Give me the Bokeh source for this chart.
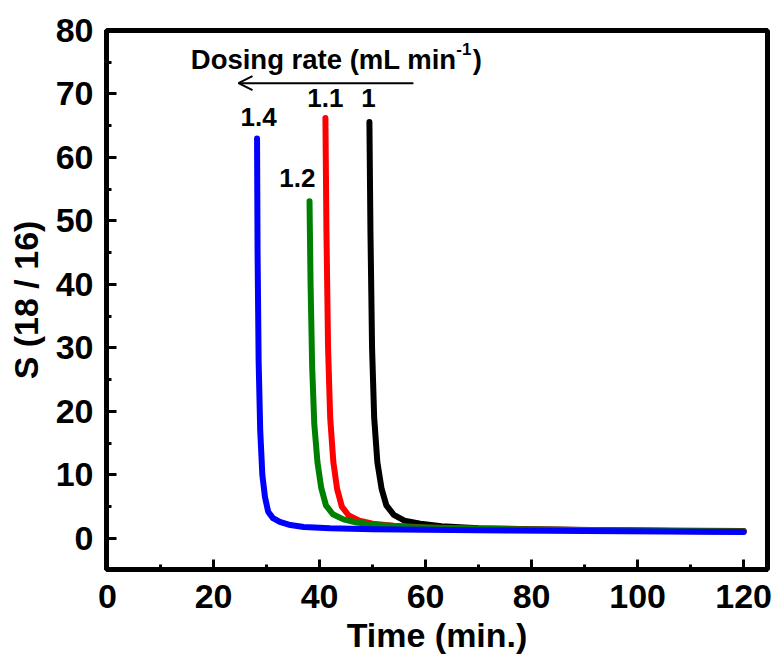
from bokeh.plotting import figure
from bokeh.models import Range1d, SingleIntervalTicker, Arrow, OpenHead
from bokeh.core.properties import value
from bokeh.embed import file_html
from bokeh.resources import INLINE

# ---- data ----
rate_labels = ["1", "1.1", "1.2", "1.4"]
colors = ["black", "#FF0000", "#008000", "#0000FF"]

t_1 = [49.4, 49.6, 49.9, 50.3, 50.9, 51.7, 52.6, 54.0, 56.0, 59.0, 63.0, 70.0, 80.0, 95.0, 110.0, 120.0]
s_1 = [65.6, 48.0, 30.0, 19.0, 12.0, 7.8, 5.2, 3.7, 2.8, 2.3, 1.9, 1.6, 1.45, 1.3, 1.2, 1.15]

t_11 = [41.1, 41.3, 41.6, 42.0, 42.6, 43.3, 44.2, 45.5, 47.5, 50.0, 54.0, 60.0, 70.0, 85.0, 100.0, 120.0]
s_11 = [66.2, 48.0, 30.0, 19.0, 12.0, 7.8, 5.0, 3.6, 2.8, 2.3, 2.0, 1.7, 1.5, 1.35, 1.2, 1.1]

t_12 = [38.1, 38.3, 38.6, 39.0, 39.6, 40.3, 41.2, 42.5, 44.5, 47.0, 51.0, 57.0, 65.0, 80.0, 100.0, 120.0]
s_12 = [53.1, 40.0, 27.0, 18.0, 12.0, 8.0, 5.2, 3.8, 3.0, 2.5, 2.1, 1.8, 1.6, 1.4, 1.2, 1.1]

t_14 = [28.2, 28.3, 28.5, 28.8, 29.2, 29.7, 30.3, 31.2, 32.5, 34.5, 37.0, 42.0, 50.0, 60.0, 75.0, 90.0, 105.0, 120.0]
s_14 = [63.0, 45.0, 28.0, 17.0, 10.0, 6.5, 4.2, 3.2, 2.6, 2.1, 1.8, 1.6, 1.45, 1.35, 1.25, 1.15, 1.1, 1.0]

series_t = [t_1, t_11, t_12, t_14]
series_s = [s_1, s_11, s_12, s_14]

# curve label positions (data coords)
label_x = [49.2, 41.1, 35.8, 28.5]
label_y = [69.4, 69.4, 56.8, 66.3]

FONT = "Liberation Sans"

p = figure(width=777, height=657, output_backend="svg", toolbar_location=None,
           x_range=Range1d(-0.2, 124.5), y_range=Range1d(-4.9, 80),
           min_border_left=106, min_border_right=10, min_border_top=30, min_border_bottom=88,
           background_fill_color="white", border_fill_color="white")

p.xgrid.visible = False
p.ygrid.visible = False
p.outline_line_color = "black"
p.outline_line_width = 5
p.outline_line_alpha = 1.0

for t, s, c in zip(series_t, series_s, colors):
    p.line(t, s, line_color=c, line_width=6, line_cap="round", line_join="round")

p.text(x=label_x, y=label_y, text=rate_labels, text_font=value(FONT), text_font_style="bold",
       text_font_size="26px", text_align="center", text_baseline="alphabetic", text_color="black")

# annotation "Dosing rate (mL min-1)"
p.text(x=[15.7], y=[75.5], text=["Dosing rate (mL min"], text_font=value(FONT),
       text_font_style="bold", text_font_size="27.5px", text_align="left",
       text_baseline="alphabetic", text_color="black")
p.text(x=[65.8], y=[77.1], text=["-1"], text_font=value(FONT), text_font_style="bold",
       text_font_size="17px", text_align="left", text_baseline="alphabetic", text_color="black")
p.text(x=[68.9], y=[75.5], text=[")"], text_font=value(FONT), text_font_style="bold",
       text_font_size="27.5px", text_align="left", text_baseline="alphabetic", text_color="black")

p.add_layout(Arrow(x_start=57.7, y_start=71.7, x_end=24.7, y_end=71.7,
                   line_width=2, line_color="black",
                   end=OpenHead(size=14, line_width=2, line_color="black")))

# axes
p.xaxis.ticker = SingleIntervalTicker(interval=20, num_minor_ticks=2)
p.yaxis.ticker = SingleIntervalTicker(interval=10, num_minor_ticks=2)
p.xaxis.axis_label = "Time (min.)"
p.yaxis.axis_label = "S (18 / 16)"
for ax in (p.xaxis, p.yaxis):
    ax.axis_line_width = 5
    ax.axis_line_color = "black"
    ax.major_tick_in = 10
    ax.major_tick_out = 0
    ax.minor_tick_in = 5
    ax.minor_tick_out = 0
    ax.major_tick_line_width = 3
    ax.minor_tick_line_width = 3
    ax.major_tick_line_color = "black"
    ax.minor_tick_line_color = "black"
    ax.major_label_text_font = FONT
    ax.major_label_text_font_style = "bold"
    ax.major_label_text_font_size = "34px"
    ax.major_label_text_color = "black"
    ax.axis_label_text_font = FONT
    ax.axis_label_text_font_style = "bold"
    ax.axis_label_text_font_size = "34px"
    ax.axis_label_text_color = "black"
p.xaxis.major_label_standoff = 15
p.yaxis.major_label_standoff = 13
p.xaxis.axis_label_standoff = 5
p.yaxis.axis_label_standoff = 8

open("out.html", "w").write(file_html(p, INLINE))
